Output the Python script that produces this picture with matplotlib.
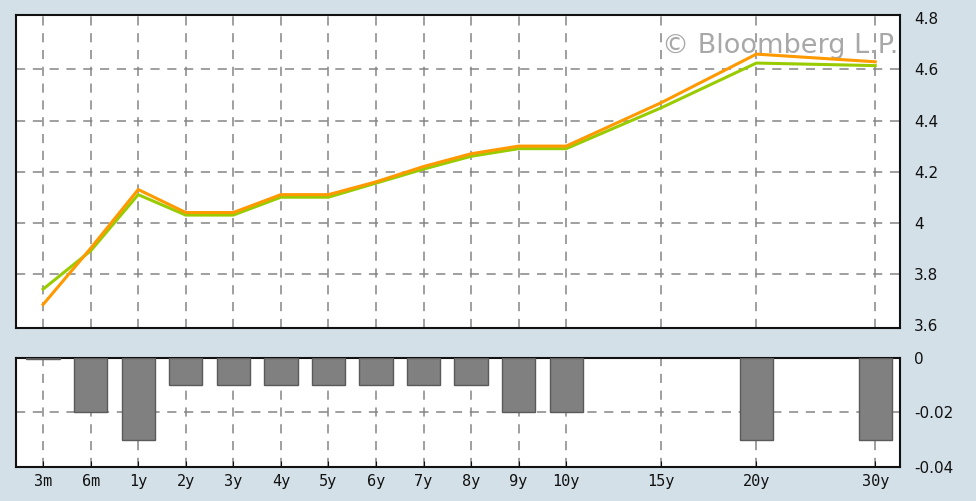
import matplotlib.pyplot as plt
import numpy as np

# yield curve data
tenors = ['3m', '6m', '1y', '2y', '3y', '4y', '5y', '6y', '7y', '8y',
          '9y', '10y', '15y', '20y', '30y']
tenor_pos = [0, 1, 2, 3, 4, 5, 6, 7, 8, 9, 10, 11, 13, 15, 17.5]
current = [3.68, 3.90, 4.13, 4.04, 4.04, 4.11, 4.11, 4.16, 4.22, 4.27,
           4.30, 4.30, 4.47, 4.66, 4.63]
previous = [3.74, 3.89, 4.11, 4.03, 4.03, 4.10, 4.10, 4.155, 4.21, 4.26,
            4.29, 4.29, 4.45, 4.625, 4.615]
change = [-0.0005, -0.02, -0.03, -0.01, -0.01, -0.01, -0.01, -0.01, -0.01,
          -0.01, -0.02, -0.02, 0.0, -0.03, -0.03]

top_ticks = [3.6, 3.8, 4.0, 4.2, 4.4, 4.6, 4.8]
top_labels = ['3.6', '3.8', '4', '4.2', '4.4', '4.6', '4.8']
bot_ticks = [-0.04, -0.02, 0]
bot_labels = ['-0.04', '-0.02', '0']

bg = '#d3e0e8'
grid_kw = dict(color='#858585', linestyle=(0, (6, 5)), linewidth=1.1)

fig = plt.figure(figsize=(9.76, 5.01), dpi=100, facecolor=bg)
ax1 = fig.add_axes([0.0164, 0.3453, 0.9057, 0.6247])
ax2 = fig.add_axes([0.0164, 0.0679, 0.9057, 0.2175])

for ax in (ax1, ax2):
    ax.set_facecolor('white')
    ax.set_xlim(-0.57, 18.02)
    ax.set_xticks(tenor_pos)
    ax.yaxis.tick_right()
    ax.tick_params(axis='y', length=0, pad=10, labelsize=11, colors='#111')
    ax.tick_params(axis='x', direction='in', length=4, color='#333')
    for s in ax.spines.values():
        s.set_linewidth(1.5)
        s.set_color('#111')
    ax.set_axisbelow(True)

# top panel: curves
ax1.set_ylim(3.588, 4.813)
ax1.set_yticks(top_ticks)
ax1.set_yticklabels(top_labels)
ax1.set_xticklabels([])
ax1.tick_params(axis='x', length=0)
ax1.xaxis.grid(True, **grid_kw)
for y in top_ticks[1:-1]:
    ax1.axhline(y, zorder=0.5, **grid_kw)
ax1.text(0.998, 0.902, '\u00a9 Bloomberg L.P.', transform=ax1.transAxes,
         ha='right', va='center', fontsize=19.5, color='#a8a8a8', zorder=1)
ax1.plot(tenor_pos, previous, color='#99cc00', linewidth=2.2, zorder=3)
ax1.plot(tenor_pos, current, color='#ff9900', linewidth=2.2, zorder=4)

# bottom panel: change bars (no outline where change is zero)
ax2.set_ylim(-0.04, 0)
ax2.set_yticks(bot_ticks)
ax2.set_yticklabels(bot_labels)
ax2.set_xticklabels(tenors, fontsize=11, family='DejaVu Sans Mono')
ax2.tick_params(axis='x', pad=5, colors='#111')
ax2.xaxis.grid(True, **grid_kw)
ax2.axhline(-0.02, zorder=0.5, **grid_kw)
edge_w = [1.0 if c != 0 else 0.0 for c in change]
ax2.bar(tenor_pos, change, width=0.7, color='#808080', edgecolor='#5a5a5a',
        linewidth=edge_w, zorder=3)

fig.savefig('out.png', dpi=100, facecolor=bg)
